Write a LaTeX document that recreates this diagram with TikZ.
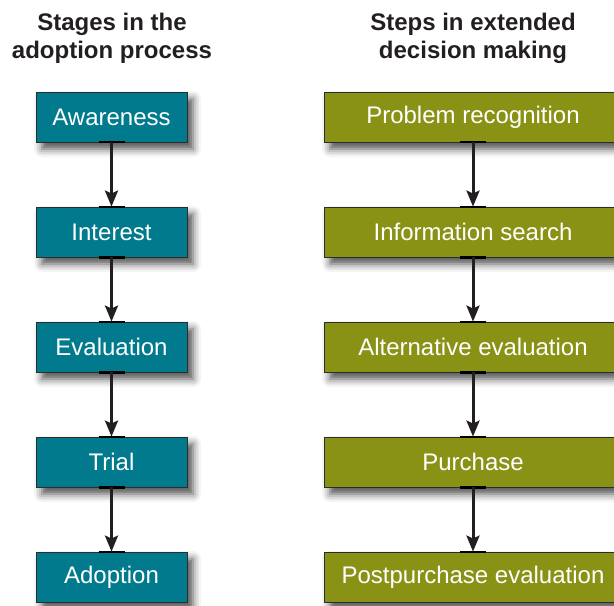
\documentclass[tikz,border=0pt]{standalone}
\usepackage{fontspec}
\setmainfont{Liberation Sans}
\usetikzlibrary{arrows.meta,shadows.blur}
\definecolor{teal}{RGB}{0,122,140}
\definecolor{olive}{RGB}{138,146,22}
\definecolor{ink}{RGB}{35,31,32}
\definecolor{edge}{RGB}{40,45,45}
\tikzset{
  boxL/.style={draw=edge, line width=0.8bp, fill=teal, text=white, minimum width=151bp, minimum height=50bp, inner sep=0pt,
    font=\fontsize{24bp}{28bp}\selectfont, blur shadow={shadow xshift=6bp, shadow yshift=-7bp, shadow blur radius=8bp, shadow opacity=70}},
  boxR/.style={boxL, fill=olive, minimum width=298bp},
  head/.style={text=ink, align=center, font=\fontsize{24bp}{28bp}\selectfont\bfseries},
  arr/.style={draw=ink, line width=3bp, -{Stealth[length=16bp, width=13bp, inset=3bp]}},
  tab/.style={draw=black, line width=2.2bp}
}
\begin{document}
\begin{tikzpicture}[x=1bp,y=-1bp]
\useasboundingbox (0,0) rectangle (614,606);
\clip (0,0) rectangle (614,606);
\node[head] (hL) at (112,38) {Stages in the\\adoption process};
\node[head] (hR) at (473,38) {Steps in extended\\decision making};
\foreach \n/\t [count=\i from 0] in {l1/Awareness, l2/Interest, l3/Evaluation, l4/Trial, l5/Adoption}{
  \node[boxL] (\n) at (111.5,117+115*\i) {\t};
}
\foreach \n/\t [count=\i from 0] in {r1/Problem recognition, r2/Information search, r3/Alternative evaluation, r4/Purchase, r5/Postpurchase evaluation}{
  \node[boxR] (\n) at (473,117+115*\i) {\t};
}
\foreach \c in {l,r}{
  \foreach \a/\b in {1/2,2/3,3/4,4/5}{
    \draw[tab] ([xshift=-13bp]\c\a.south) -- ([xshift=13bp]\c\a.south);
    \draw[tab] ([xshift=-13bp]\c\b.north) -- ([xshift=13bp]\c\b.north);
    \draw[arr] (\c\a.south) -- (\c\b.north);
  }
}
\end{tikzpicture}
\end{document}
